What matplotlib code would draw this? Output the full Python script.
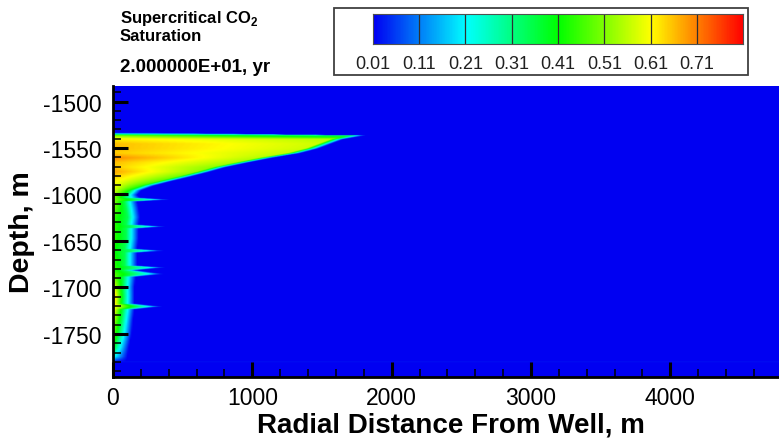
import matplotlib
matplotlib.use("Agg")
import matplotlib.pyplot as plt
import numpy as np
from matplotlib.colors import LinearSegmentedColormap
from matplotlib.patches import Rectangle
from matplotlib.ticker import MultipleLocator

plt.rcParams['font.family'] = ['Liberation Sans', 'DejaVu Sans']
plt.rcParams['axes.unicode_minus'] = False
plt.rcParams['mathtext.fontset'] = 'custom'
plt.rcParams['mathtext.rm'] = 'Liberation Sans'
plt.rcParams['mathtext.bf'] = 'Liberation Sans:bold'

# grid layers: depth (m), saturation at the well,
# saturation just behind the front, radius of the front (m)
layer_depth = [-1800, -1781, -1775, -1765, -1750, -1735, -1724, -1721, -1718,
               -1710, -1700, -1689, -1686, -1682, -1679, -1677, -1672, -1663,
               -1661, -1659, -1648, -1637, -1635, -1633, -1625, -1615, -1608,
               -1606, -1604, -1601, -1596, -1591, -1586, -1581, -1576, -1571,
               -1566, -1561, -1556, -1551, -1546, -1541, -1537, -1534, -1480]
well_sat = [0.01, 0.01, 0.30, 0.42, 0.48, 0.55, 0.62, 0.60, 0.66,
            0.68, 0.60, 0.50, 0.48, 0.45, 0.45, 0.45, 0.45, 0.42,
            0.42, 0.42, 0.45, 0.45, 0.45, 0.45, 0.45, 0.50, 0.52,
            0.50, 0.52, 0.55, 0.58, 0.60, 0.62, 0.65, 0.68, 0.65,
            0.66, 0.70, 0.65, 0.66, 0.66, 0.62, 0.50, 0.01, 0.01]
front_sat = [0.01, 0.01, 0.20, 0.30, 0.35, 0.38, 0.38, 0.20, 0.38,
             0.40, 0.38, 0.35, 0.20, 0.35, 0.20, 0.35, 0.35, 0.35,
             0.20, 0.35, 0.35, 0.35, 0.20, 0.35, 0.35, 0.35, 0.35,
             0.20, 0.30, 0.38, 0.42, 0.45, 0.48, 0.50, 0.52, 0.52,
             0.54, 0.55, 0.56, 0.57, 0.57, 0.55, 0.30, 0.01, 0.01]
front_r = [0, 0, 10, 20, 40, 50, 60, 260, 60,
           60, 60, 70, 270, 70, 280, 80, 80, 80,
           270, 80, 90, 90, 280, 90, 100, 90, 80,
           310, 100, 80, 110, 200, 330, 470, 600, 720,
           880, 1050, 1250, 1380, 1470, 1560, 1720, 0, 0]
taper = 90  # m from the front to background

cbar_levels = [0.01, 0.11, 0.21, 0.31, 0.41, 0.51, 0.61, 0.71, 0.81]
cbar_labels = ['0.01', '0.11', '0.21', '0.31', '0.41', '0.51', '0.61', '0.71']

# tecplot small rainbow
cmap = LinearSegmentedColormap.from_list(
    'small_rainbow', [(0, 0, 0.95), (0, 1, 1), (0, 1, 0), (1, 1, 0), (1, 0, 0)])

# build the flood field: layer values blended in depth, then spread radially
r_grid = np.arange(0, 4801, 10)
z_grid = np.arange(-1800, -1479.5, 0.5)
sw = np.interp(z_grid, layer_depth, well_sat)
sf = np.interp(z_grid, layer_depth, front_sat)
rf = np.interp(z_grid, layer_depth, front_r)
field = np.full((len(z_grid), len(r_grid)), 0.01)
for i in range(len(z_grid)):
    if rf[i] < 1:
        field[i, :] = max(sw[i], 0.01) if rf[i] > 0 else 0.01
        continue
    field[i, :] = np.interp(r_grid, [0, rf[i], rf[i] + taper], [sw[i], sf[i], 0.01])

fig = plt.figure(figsize=(7.79, 4.39), dpi=100)
ax = fig.add_axes([0.145, 0.1383, 0.855, 0.6642])
ax.imshow(field, origin='lower', extent=[0, 4800, -1800, -1480], aspect='auto',
          cmap=cmap, vmin=cbar_levels[0], vmax=cbar_levels[-1], interpolation='bilinear')
ax.set_xlim(0, 4780)
ax.set_ylim(-1796.6, -1483)

ax.xaxis.set_major_locator(MultipleLocator(1000))
ax.xaxis.set_minor_locator(MultipleLocator(200))
ax.yaxis.set_major_locator(MultipleLocator(50))
ax.yaxis.set_minor_locator(MultipleLocator(10))
ax.tick_params(which='major', direction='in', length=11, width=2.2, labelsize=16.5)
ax.tick_params(which='minor', direction='in', length=6, width=1.1)
ax.tick_params(axis='y', which='major', pad=8)
ax.tick_params(axis='x', which='major', pad=6)
for s in ['top', 'right']:
    ax.spines[s].set_visible(False)
for s in ['left', 'bottom']:
    ax.spines[s].set_linewidth(2)

ax.set_xlabel('Radial Distance From Well, m', fontsize=20, fontweight='bold', va='top')
ax.xaxis.set_label_coords(0.507, -0.118)
ax.set_ylabel('Depth, m', fontsize=20.5, fontweight='bold')
ax.yaxis.set_label_coords(-0.117, 0.5)

# header text
fig.text(0.154, 0.9476, r'Supercritical CO$_\mathbf{2}$', fontsize=12, fontweight='bold', va='baseline')
fig.text(0.154, 0.9066, 'Saturation', fontsize=12, fontweight='bold', va='baseline')
fig.text(0.154, 0.836, '2.000000E+01, yr', fontsize=13.5, fontweight='bold', va='baseline')

# legend box with colour bar
box = Rectangle((0.4288, 0.8269), 0.5315, 0.1526, transform=fig.transFigure,
                facecolor='white', edgecolor='#404040', lw=1.3, zorder=-5)
fig.patches.append(box)
cax = fig.add_axes([0.4788, 0.8975, 0.475, 0.0683])
cax.set_zorder(5)
cax.imshow(np.linspace(cbar_levels[0], cbar_levels[-1], 400)[None, :], aspect='auto',
           cmap=cmap, vmin=cbar_levels[0], vmax=cbar_levels[-1],
           extent=[cbar_levels[0], cbar_levels[-1], 0, 1])
for lv in cbar_levels[1:-1]:
    cax.axvline(lv, color='#303030', lw=0.9)
cax.set_xticks([])
cax.set_yticks([])
for s in cax.spines.values():
    s.set_color('#505050')
    s.set_linewidth(0.8)
x0, x1 = 0.4788, 0.4788 + 0.475
for lv, lab in zip(cbar_levels[:-1], cbar_labels):
    xf = x0 + (lv - cbar_levels[0]) / (cbar_levels[-1] - cbar_levels[0]) * (x1 - x0)
    fig.text(xf, 0.843, lab, fontsize=13, ha='center', va='baseline', color='#202020')

fig.savefig('out.png', dpi=100)
